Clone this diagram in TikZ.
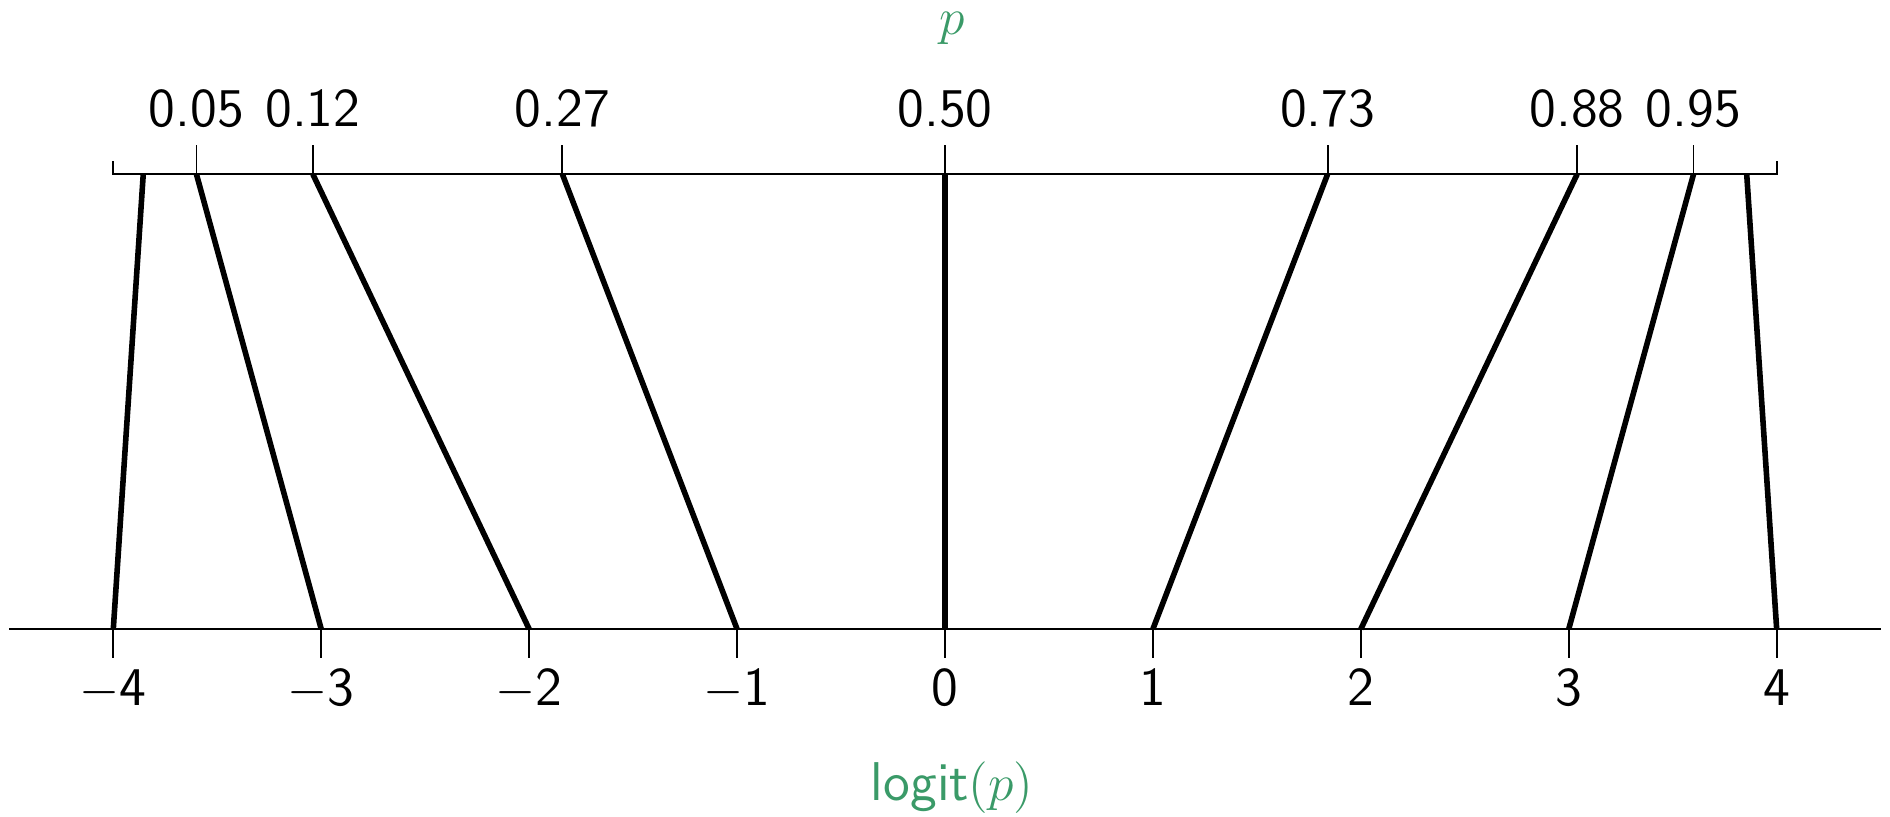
\documentclass[tikz,border=0pt]{standalone}
\usetikzlibrary{calc}
\definecolor{labgreen}{RGB}{58,154,104}
\newcommand{\labsize}{\fontsize{12.7}{15}\selectfont}
\begin{document}
\begin{tikzpicture}[x=1.7cm,y=1.7cm,
  axisline/.style={line width=0.45pt},
  mapline/.style={line width=1.3pt},
  numlab/.style={font=\sffamily\labsize, anchor=base, inner sep=0pt},
  greenlab/.style={text=labgreen, font=\sffamily\labsize, anchor=base, inner sep=0pt}]
\useasboundingbox (-4.545,-0.8995) rectangle (4.545,3.0255);
% bottom axis
\coordinate (bl) at (-4.5,0);
\coordinate (br) at (4.5,0);
\draw[axisline] (bl) -- (br);
\foreach \k/\t in {-4/{$-$4},-3/{$-$3},-2/{$-$2},-1/{$-$1},0/0,1/1,2/2,3/3,4/4} {
  \coordinate (b\k) at (\k,0);
  \draw[axisline] (b\k) -- ++(0,-0.14);
  \node[numlab] (lb\k) at (\k,-0.366) {\t};
}
% top axis
\coordinate (tl) at (-4,2.187);
\coordinate (tr) at (4,2.187);
\draw[axisline] ($(tl)+(0,0.0625)$) -- (tl) -- (tr) -- ($(tr)+(0,0.0625)$);
\foreach \k/\p in {-3/0.05,-2/0.12,-1/0.27,0/0.50,1/0.73,2/0.88,3/0.95} {
  \coordinate (t\k) at ({8*\p-4},2.187);
  \draw[axisline] (t\k) -- ++(0,0.14);
  \node[numlab] (lt\k) at ({8*\p-4},2.416) {\p};
}
\coordinate (t-4) at (-3.856,2.187);
\coordinate (t4) at (3.856,2.187);
% mapping lines
\foreach \k in {-4,...,4} {
  \draw[mapline] (b\k) -- (t\k);
}
% titles
\node[greenlab] (ptitle) at (0.035,2.86) {$p$};
\node[greenlab] (ltitle) at (0.035,-0.825) {logit$(p)$};
\end{tikzpicture}
\end{document}
